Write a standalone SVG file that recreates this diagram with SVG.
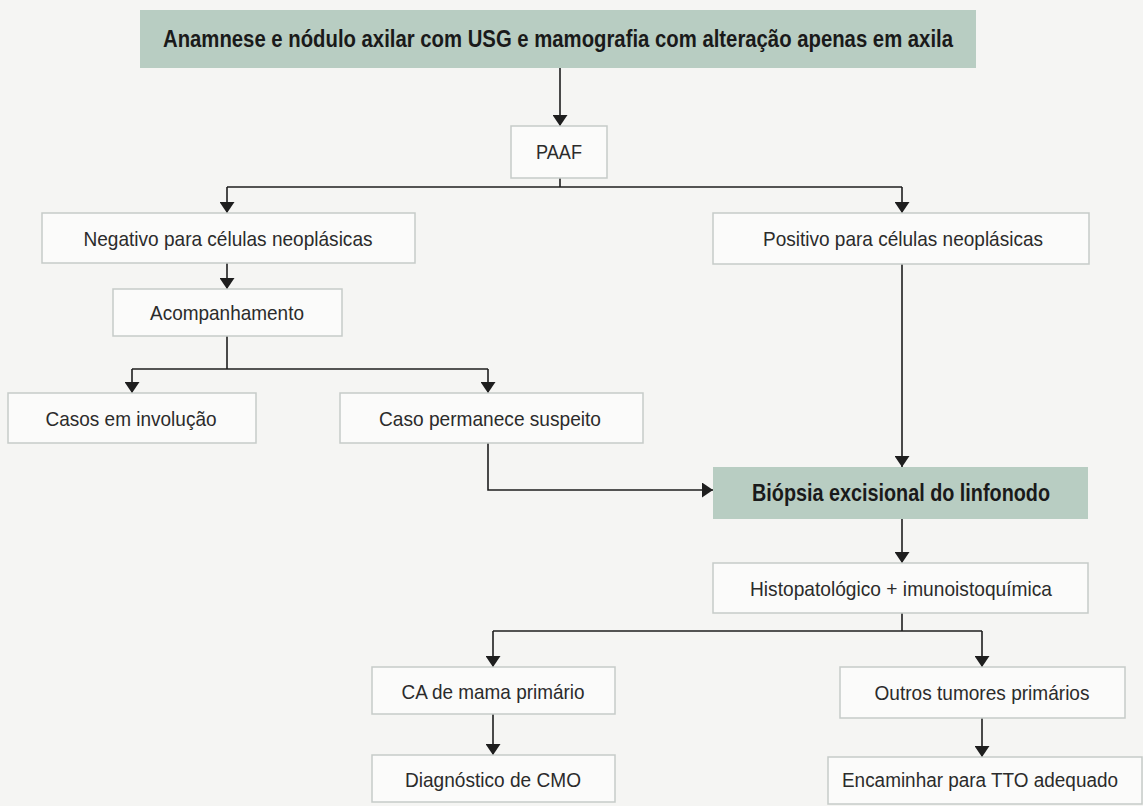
<svg xmlns="http://www.w3.org/2000/svg" width="1143" height="806" viewBox="0 0 1143 806">
  <defs>
    <marker id="arr" viewBox="0 0 11 15" refX="11" refY="7.5" markerWidth="11" markerHeight="15" markerUnits="userSpaceOnUse" orient="auto">
      <path d="M0,0 L11,7.5 L0,15 z" fill="#1e1e1e"/>
    </marker>
  </defs>
  <style>
    .box { fill: #fbfbfa; stroke: #c6cbc9; stroke-width: 1.5; }
    .hl { fill: #b8cdc2; stroke: none; }
    .t { font-family: "Liberation Sans Narrow", "Liberation Sans", Arial, sans-serif; font-size: 21px; fill: #2b2b2b; text-anchor: middle; }
    .b { font-family: "Liberation Sans Narrow", "Liberation Sans", Arial, sans-serif; font-size: 23px; font-weight: bold; fill: #1a1a1a; text-anchor: middle; }
    .c { fill: none; stroke: #1e1e1e; stroke-width: 1.6; }
  </style>
  <rect x="0" y="0" width="1143" height="806" fill="#f5f5f3"/>

  <g id="connectors">
    <path class="c" d="M560,68 V126" marker-end="url(#arr)"/>
    <path class="c" d="M560,178 V187"/>
    <path class="c" d="M227,187 H902"/>
    <path class="c" d="M227,187 V213" marker-end="url(#arr)"/>
    <path class="c" d="M902,187 V213" marker-end="url(#arr)"/>
    <path class="c" d="M227,263 V289" marker-end="url(#arr)"/>
    <path class="c" d="M227,336 V369"/>
    <path class="c" d="M132,369 H488"/>
    <path class="c" d="M132,369 V393" marker-end="url(#arr)"/>
    <path class="c" d="M488,369 V393" marker-end="url(#arr)"/>
    <path class="c" d="M488,443 V490 H713" marker-end="url(#arr)"/>
    <path class="c" d="M902,264 V467" marker-end="url(#arr)"/>
    <path class="c" d="M902,519 V563" marker-end="url(#arr)"/>
    <path class="c" d="M902,613 V631"/>
    <path class="c" d="M493,631 H982"/>
    <path class="c" d="M493,631 V667" marker-end="url(#arr)"/>
    <path class="c" d="M982,631 V667" marker-end="url(#arr)"/>
    <path class="c" d="M493,714 V755" marker-end="url(#arr)"/>
    <path class="c" d="M982,718 V757" marker-end="url(#arr)"/>
  </g>

  <g id="n-anamnese">
    <rect class="hl" x="140" y="10" width="836" height="58"/>
    <text class="b" x="558" y="47" textLength="790" lengthAdjust="spacingAndGlyphs">Anamnese e nódulo axilar com USG e mamografia com alteração apenas em axila</text>
  </g>
  <g id="n-paaf">
    <rect class="box" x="511" y="126" width="96" height="52"/>
    <text class="t" x="559" y="159" textLength="46" lengthAdjust="spacingAndGlyphs">PAAF</text>
  </g>
  <g id="n-negativo">
    <rect class="box" x="42" y="213" width="373" height="50"/>
    <text class="t" x="228" y="246" textLength="289" lengthAdjust="spacingAndGlyphs">Negativo para células neoplásicas</text>
  </g>
  <g id="n-positivo">
    <rect class="box" x="713" y="213" width="376" height="51"/>
    <text class="t" x="903" y="246" textLength="280" lengthAdjust="spacingAndGlyphs">Positivo para células neoplásicas</text>
  </g>
  <g id="n-acompanhamento">
    <rect class="box" x="113" y="289" width="229" height="47"/>
    <text class="t" x="227" y="320" textLength="154" lengthAdjust="spacingAndGlyphs">Acompanhamento</text>
  </g>
  <g id="n-involucao">
    <rect class="box" x="8" y="393" width="248" height="50"/>
    <text class="t" x="131" y="426" textLength="171" lengthAdjust="spacingAndGlyphs">Casos em involução</text>
  </g>
  <g id="n-suspeito">
    <rect class="box" x="340" y="393" width="303" height="50"/>
    <text class="t" x="490" y="426" textLength="222" lengthAdjust="spacingAndGlyphs">Caso permanece suspeito</text>
  </g>
  <g id="n-biopsia">
    <rect class="hl" x="713" y="467" width="375" height="52"/>
    <text class="b" x="901" y="501" textLength="298" lengthAdjust="spacingAndGlyphs">Biópsia excisional do linfonodo</text>
  </g>
  <g id="n-histo">
    <rect class="box" x="713" y="563" width="375" height="50"/>
    <text class="t" x="901" y="596" textLength="302" lengthAdjust="spacingAndGlyphs">Histopatológico + imunoistoquímica</text>
  </g>
  <g id="n-camama">
    <rect class="box" x="372" y="667" width="243" height="47"/>
    <text class="t" x="493" y="699" textLength="183" lengthAdjust="spacingAndGlyphs">CA de mama primário</text>
  </g>
  <g id="n-outros">
    <rect class="box" x="840" y="667" width="285" height="51"/>
    <text class="t" x="982" y="700" textLength="215" lengthAdjust="spacingAndGlyphs">Outros tumores primários</text>
  </g>
  <g id="n-cmo">
    <rect class="box" x="372" y="755" width="243" height="47"/>
    <text class="t" x="493" y="787" textLength="176" lengthAdjust="spacingAndGlyphs">Diagnóstico de CMO</text>
  </g>
  <g id="n-tto">
    <rect class="box" x="828" y="757" width="314" height="47"/>
    <text class="t" x="980" y="787" style="font-size:20px" textLength="276" lengthAdjust="spacingAndGlyphs">Encaminhar para TTO adequado</text>
  </g>
</svg>
